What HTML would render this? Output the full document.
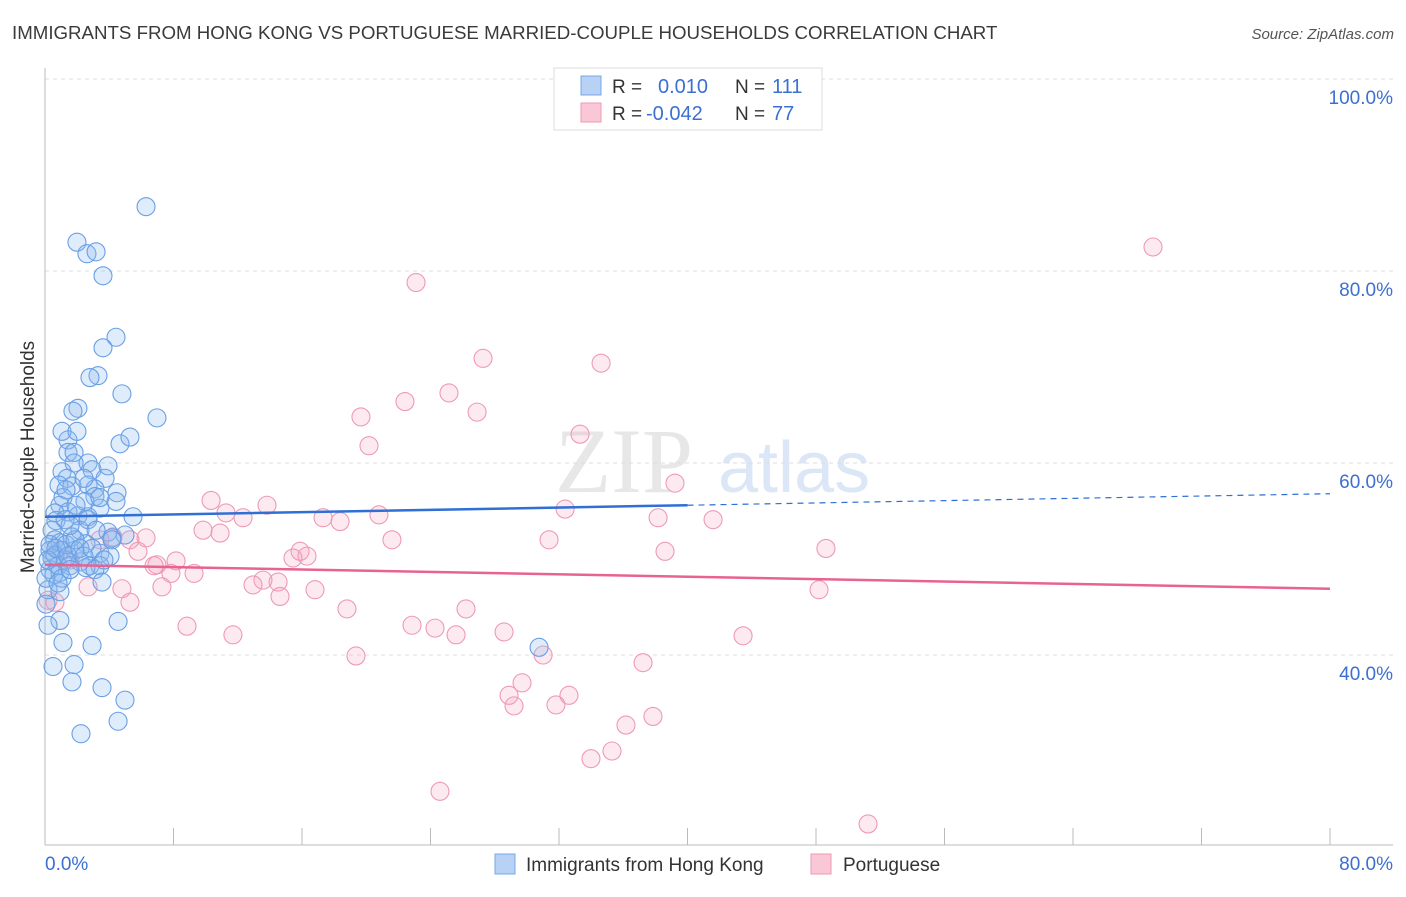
<!DOCTYPE html>
<html><head><meta charset="utf-8"><style>
body{margin:0;background:#fff;font-family:"Liberation Sans",sans-serif}
</style></head><body>
<svg id="chart" width="1406" height="892" xmlns="http://www.w3.org/2000/svg" font-family="Liberation Sans, sans-serif">
<text x="12" y="39" font-size="18.7" fill="#3a3a3a">IMMIGRANTS FROM HONG KONG VS PORTUGUESE MARRIED-COUPLE HOUSEHOLDS CORRELATION CHART</text>
<text x="1394" y="39" font-size="15" fill="#555" text-anchor="end" font-style="italic">Source: ZipAtlas.com</text>
<g opacity="0.35">
<text x="555" y="492" font-size="92" fill="#bbb" font-family="Liberation Serif, serif">ZIP</text>
<text x="718" y="492" font-size="72" fill="#9ab8e8">atlas</text>
</g>
<g id="grid"></g>
<g id="axes"></g>
<g id="points"></g>
<g id="trends"></g>
<text transform="translate(34,457) rotate(-90)" font-size="19" fill="#333" text-anchor="middle">Married-couple Households</text>
<g>
<rect x="554" y="68" width="268" height="62" fill="#fff" stroke="#ddd"/>
<rect x="581" y="76" width="20" height="19" fill="#b7d2f5" stroke="#7aa7e6"/>
<rect x="581" y="103" width="20" height="19" fill="#f9c7d6" stroke="#ee9ab4"/>
<text x="612" y="93" font-size="19" fill="#333">R =</text>
<text x="658" y="93" font-size="20" fill="#3b6fd1">0.010</text>
<text x="735" y="93" font-size="19" fill="#333">N =</text>
<text x="772" y="93" font-size="20" fill="#3b6fd1">111</text>
<text x="612" y="120" font-size="19" fill="#333">R =</text>
<text x="646" y="120" font-size="20" fill="#3b6fd1">-0.042</text>
<text x="735" y="120" font-size="19" fill="#333">N =</text>
<text x="772" y="120" font-size="20" fill="#3b6fd1">77</text>
</g>
<g>
<rect x="495" y="854" width="20" height="20" fill="#b7d2f5" stroke="#7aa7e6"/>
<text x="526" y="871" font-size="19" fill="#333">Immigrants from Hong Kong</text>
<rect x="811" y="854" width="20" height="20" fill="#f9c7d6" stroke="#ee9ab4"/>
<text x="843" y="871" font-size="19" fill="#333">Portuguese</text>
</g>
</svg>
<script>
const blueX=[6.29,1.99,2.61,3.18,3.61,4.42,3.61,3.30,2.80,4.79,2.05,1.74,6.97,4.67,5.29,1.43,1.06,1.99,1.43,1.81,2.68,1.81,2.93,3.74,1.06,1.37,0.87,2.68,1.68,3.11,4.48,1.12,3.11,4.42,2.49,0.93,3.42,1.43,0.62,2.05,2.68,5.48,0.68,1.25,0.44,2.18,3.92,4.98,4.17,1.68,0.62,0.93,2.55,0.31,1.06,1.87,3.42,4.05,0.44,1.25,2.18,2.80,0.81,1.56,3.42,0.31,0.93,2.55,3.11,3.55,0.19,0.93,0.06,4.55,0.93,0.19,1.12,2.93,30.76,1.81,0.50,1.68,3.55,4.98,4.55,2.24,0.31,0.62,0.19,0.68,1.31,1.87,1.43,2.18,0.56,1.06,1.56,2.43,2.93,3.67,4.17,0.06,0.81,2.68,3.18,1.56,1.93,3.42,1.31,2.43,3.92];
const blueY=[86.7,83.0,81.8,82.0,79.5,73.1,72.0,69.1,68.9,67.2,65.7,65.4,64.7,62.0,62.7,62.4,63.3,63.3,61.1,61.1,60.0,60.0,59.3,58.4,59.1,58.4,57.7,57.7,57.6,57.3,56.9,56.4,56.5,56.0,56.0,55.6,55.3,54.9,54.8,54.5,54.4,54.4,54.0,54.1,53.0,53.0,52.8,52.5,52.2,52.3,52.0,51.7,51.6,50.9,50.9,50.9,50.6,50.3,50.1,49.9,49.7,49.3,49.3,49.3,49.3,48.9,48.6,49.1,48.9,47.6,46.8,46.6,45.3,43.5,43.6,43.1,41.3,41.0,40.8,39.0,38.8,37.2,36.6,35.3,33.1,31.8,51.5,50.4,49.9,51.1,51.5,52.0,50.3,51.1,48.4,48.0,48.9,50.3,51.1,49.9,52.0,48.0,47.5,54.1,53.0,53.5,55.6,56.4,57.2,58.4,59.7];
const pinkX=[68.98,23.10,27.27,34.62,25.15,22.41,19.67,26.90,20.17,33.31,39.22,10.34,13.82,11.27,12.33,32.38,17.31,18.37,20.79,38.17,41.59,9.84,10.90,6.29,21.60,31.38,4.23,5.29,5.79,6.97,48.62,38.60,15.88,16.31,15.44,8.16,6.79,7.84,9.28,13.57,14.51,12.95,7.28,16.81,2.68,4.79,14.63,5.29,0.62,18.80,26.21,48.19,8.84,11.70,22.85,24.28,25.59,28.58,43.46,31.01,19.36,37.23,29.70,28.89,29.20,32.62,31.81,37.85,36.17,35.30,33.99,24.59,51.24,0.93,1.56,0.19,3.42];
const pinkY=[82.5,78.8,70.9,70.4,67.3,66.4,64.8,65.3,61.8,63.0,57.9,56.1,55.6,54.8,54.3,55.2,54.3,53.9,54.6,54.3,54.1,53.0,52.7,52.2,52.0,52.0,52.3,52.0,50.8,49.4,51.1,50.8,50.8,50.3,50.1,49.8,49.3,48.5,48.5,47.8,47.6,47.3,47.1,46.8,47.1,46.9,46.1,45.5,45.5,44.8,44.8,46.8,43.0,42.1,43.1,42.8,42.1,42.4,42.0,40.0,39.9,39.2,37.1,35.8,34.7,35.8,34.8,33.6,32.7,30.0,29.2,25.8,22.4,50.9,49.9,45.7,52.0];
const yTicks=[40,60,80,100];
const blueTrend=[54.4,55.6,56.8];
const pinkTrend=[49.4,46.9];
const NS="http://www.w3.org/2000/svg";
const sx=v=>45+v*(1285/80);
const sy=v=>1039-v*9.6;
function mk(tag,attrs,parent){const e=document.createElementNS(NS,tag);for(const k in attrs)e.setAttribute(k,attrs[k]);parent.appendChild(e);return e;}
const grid=document.getElementById('grid'),axes=document.getElementById('axes'),pts=document.getElementById('points'),tr=document.getElementById('trends');
yTicks.forEach(t=>{
 const l=mk('line',{x1:45,x2:1393,y1:sy(t),y2:sy(t),stroke:'#ddd','stroke-dasharray':'4,4'},grid);
 
 
 const tx=mk('text',{x:1393,y:sy(t)+25,'font-size':19,fill:'#3b6fd1','text-anchor':'end'},axes);
 tx.textContent=t.toFixed(1)+'%';
 
 
});
const ya=mk('line',{x1:45,x2:45,y1:68,y2:845,stroke:'#bbb'},axes);


const xa=mk('line',{x1:45,x2:1393,y1:845,y2:845,stroke:'#bbb'},axes);


for(let i=0;i<=10;i++){const x=45+i*128.5;const t=mk('line',{x1:x,x2:x,y1:828,y2:845,stroke:'#bbb'},axes);
 
 }
const x0=mk('text',{x:45,y:870,'font-size':19,fill:'#3b6fd1'},axes);x0.textContent='0.0%';


const x1=mk('text',{x:1393,y:870,'font-size':19,fill:'#3b6fd1','text-anchor':'end'},axes);x1.textContent='80.0%';


pinkX.forEach((x,i)=>{const c=mk('circle',{cx:sx(x),cy:sy(pinkY[i]),r:9,fill:'rgba(244,160,188,0.22)',stroke:'#ee9ab4','stroke-width':1.1},pts);
 
 });
blueX.forEach((x,i)=>{const c=mk('circle',{cx:sx(x),cy:sy(blueY[i]),r:9,fill:'rgba(140,185,240,0.28)',stroke:'#6a9fe3','stroke-width':1.1},pts);
 
 });
const bl=mk('line',{x1:sx(0),y1:sy(blueTrend[0]),x2:sx(40),y2:sy(blueTrend[1]),stroke:'#2f6fd6','stroke-width':2.5},tr);


const bd=mk('line',{x1:sx(40),y1:sy(blueTrend[1]),x2:sx(80),y2:sy(blueTrend[2]),stroke:'#2f6fd6','stroke-width':1.2,'stroke-dasharray':'6,5'},tr);


const pl=mk('line',{x1:sx(0),y1:sy(pinkTrend[0]),x2:sx(80),y2:sy(pinkTrend[1]),stroke:'#e8638f','stroke-width':2.5},tr);


</script>
</body></html>
